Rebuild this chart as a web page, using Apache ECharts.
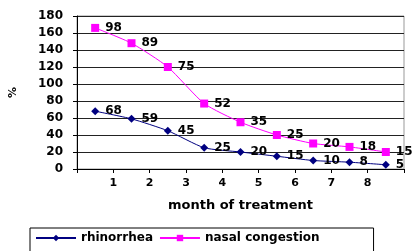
<!DOCTYPE html>
<html>
<head>
<meta charset="utf-8">
<script src="https://cdn.jsdelivr.net/npm/echarts@6/dist/echarts.min.js"></script>
<style>
html, body { margin: 0; padding: 0; background: #fff; }
#chart { width: 417px; height: 251px; }
</style>
</head>
<body>
<div id="chart"></div>
<script>
// nine observations, each drawn in the middle of a month interval
var slots = ['0.5', '1.5', '2.5', '3.5', '4.5', '5.5', '6.5', '7.5', '8.5'];
var rhinorrhea = [68, 59, 45, 25, 20, 15, 10, 8, 5];
var nasalCongestion = [98, 89, 75, 52, 35, 25, 20, 18, 15];
var tickLabels = ['', '1', '2', '3', '4', '5', '6', '7', '8', ''];

var font = 'Verdana, "DejaVu Sans", sans-serif';
var labelStyle = {
    show: true,
    position: 'right',
    distance: 6,
    color: '#000',
    fontWeight: 'bold',
    fontSize: 12,
    fontFamily: font
};

var chart = echarts.init(document.getElementById('chart'));
chart.setOption({
    animation: false,
    textStyle: { fontFamily: font },
    grid: { left: 76, right: 13, top: 16, bottom: 82, show: true, borderColor: '#999', borderWidth: 1, backgroundColor: '#fff' },
    xAxis: [
        {
            // hidden category axis that carries the (stacked) data
            type: 'category',
            position: 'bottom',
            data: slots,
            boundaryGap: true,
            show: false
        },
        {
            // visible month scale, labels on the boundaries
            type: 'value',
            position: 'bottom',
            min: 0,
            max: 9,
            interval: 1,
            name: 'month of treatment',
            nameLocation: 'middle',
            nameGap: 30,
            nameTextStyle: { color: '#000', fontWeight: 'bold', fontSize: 13 },
            axisLine: { lineStyle: { color: '#000' } },
            axisTick: { show: true, length: 4, lineStyle: { color: '#000' } },
            axisLabel: {
                color: '#000', fontWeight: 'bold', fontSize: 11, margin: 9,
                formatter: function (v) { return tickLabels[Math.round(v)]; }
            },
            splitLine: { show: false }
        }
    ],
    yAxis: {
        type: 'value',
        min: 0,
        max: 180,
        interval: 20,
        name: '%',
        nameLocation: 'middle',
        nameGap: 58,
        nameRotate: 90,
        nameTextStyle: { color: '#000', fontWeight: 'bold', fontSize: 11 },
        axisLine: { show: true, lineStyle: { color: '#000' } },
        axisTick: { show: true, length: 4, lineStyle: { color: '#000' } },
        axisLabel: { color: '#000', fontWeight: 'bold', fontSize: 12, margin: 14 },
        splitLine: { lineStyle: { color: '#222', width: 1 } }
    },
    legend: {
        left: 30,
        top: 228,
        itemWidth: 40,
        itemHeight: 8,
        itemGap: 6,
        padding: [4, 54, 12, 5],
        borderColor: '#000',
        borderWidth: 1,
        textStyle: { color: '#000', fontWeight: 'bold', fontSize: 12 },
        data: ['rhinorrhea', 'nasal congestion']
    },
    series: [
        {
            name: 'rhinorrhea',
            type: 'line',
            stack: 'total',
            xAxisIndex: 0,
            data: rhinorrhea,
            smooth: 0.2,
            symbol: 'diamond',
            symbolSize: 8,
            lineStyle: { color: '#000080', width: 1 },
            itemStyle: { color: '#000080' },
            label: labelStyle
        },
        {
            name: 'nasal congestion',
            type: 'line',
            stack: 'total',
            xAxisIndex: 0,
            data: nasalCongestion,
            smooth: 0.2,
            symbol: 'rect',
            symbolSize: 8,
            lineStyle: { color: '#ff00ff', width: 1 },
            itemStyle: { color: '#ff00ff' },
            label: labelStyle
        }
    ]
});
</script>
</body>
</html>
